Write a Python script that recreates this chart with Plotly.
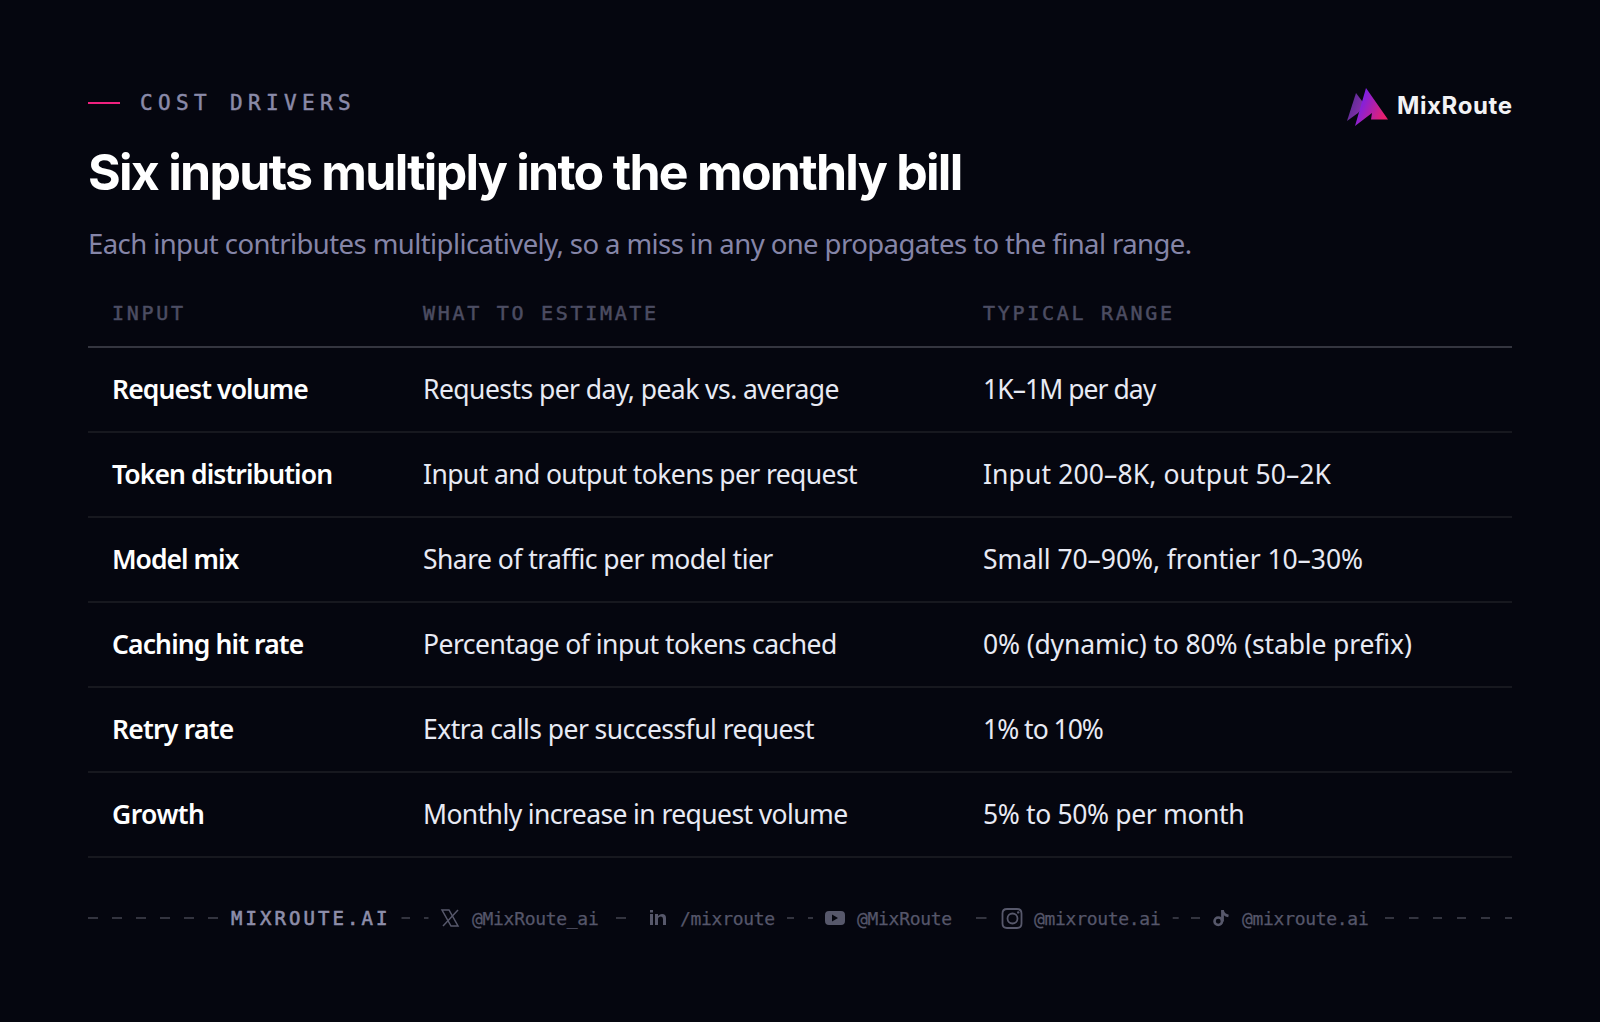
import base64
import plotly.graph_objects as go

# Tabellen-Inhalt
inputs = ["Request volume", "Token distribution", "Model mix", "Caching hit rate", "Retry rate", "Growth"]
estimates = [
    "Requests per day, peak vs. average",
    "Input and output tokens per request",
    "Share of traffic per model tier",
    "Percentage of input tokens cached",
    "Extra calls per successful request",
    "Monthly increase in request volume",
]
ranges = [
    "1K–1M per day",
    "Input 200–8K, output 50–2K",
    "Small 70–90%, frontier 10–30%",
    "0% (dynamic) to 80% (stable prefix)",
    "1% to 10%",
    "5% to 50% per month",
]
headers = ["INPUT", "WHAT TO ESTIMATE", "TYPICAL RANGE"]
eyebrow = "COST DRIVERS"
title = "Six inputs multiply into the monthly bill"
subtitle = "Each input contributes multiplicatively, so a miss in any one propagates to the final range."
brand = "MixRoute"
site = "MIXROUTE.AI"
handles = ["@MixRoute_ai", "/mixroute", "@MixRoute", "@mixroute.ai", "@mixroute.ai"]

BG = "#05060f"
SANS = "Noto Sans"
MONO = "DejaVu Sans Mono"
COL_X = [112, 423, 983]
ROW_TOP = 347
ROW_H = 85
TEXT_DY = 3

# Laufweite je Zeile, die Ziffern von Noto Sans sind anders breit als im Original
col_spacing = [
    [-0.9, -0.9, -1.0, -0.87, -0.75, -0.55],
    [-0.55, -0.6, -0.55, -0.52, -0.55, -0.6],
    [-0.95, 0.12, -0.06, -0.14, -1.0, -0.35],
]


def spaced(text, px, extra=""):
    return f'<span style="letter-spacing:{px}px;{extra}">{text}</span>'


def label(x, y, text, size, color, family=SANS, weight=400, anchor="left"):
    fig.add_annotation(x=x, y=y, text=text, showarrow=False, xanchor=anchor, yanchor="middle",
                       xref="x", yref="y", borderpad=0, borderwidth=0,
                       font=dict(size=size, color=color, family=family, weight=weight))


fig = go.Figure()

# Zeilen der Tabelle
row_y = [ROW_TOP + ROW_H * (i + 0.5) + TEXT_DY for i in range(len(inputs))]
for col, vals in enumerate([inputs, estimates, ranges]):
    fig.add_trace(go.Scatter(
        x=[COL_X[col]] * len(vals), y=row_y,
        text=[spaced(v, s) for v, s in zip(vals, col_spacing[col])], mode="text",
        textposition="middle right", hoverinfo="skip", showlegend=False,
        textfont=dict(family=SANS, size=26.5, color="#ffffff" if col == 0 else "#e8eaf4",
                      weight=600 if col == 0 else 400),
    ))

# Kopfzeile und Linien
for x, h in zip(COL_X, headers):
    label(x, 313, spaced(h, 2.7, "stroke:#4c4d62;stroke-width:0.5px"), 20, "#4c4d62", MONO)
shapes = [dict(type="line", x0=88, x1=1512, y0=ROW_TOP, y1=ROW_TOP, line=dict(color="#34353f", width=2))]
for i in range(1, len(inputs) + 1):
    y = ROW_TOP + ROW_H * i
    shapes.append(dict(type="line", x0=88, x1=1512, y0=y, y1=y, line=dict(color="#17181f", width=2)))

# Kopfbereich
shapes.append(dict(type="line", x0=88, x1=120, y0=103, y1=103, line=dict(color="#f0217f", width=2)))
label(140, 103, spaced(eyebrow, 5.35, "stroke:#8a8aa8;stroke-width:0.5px"), 21, "#8a8aa8", MONO)
label(88, 172, spaced(title, -1.72), 50, "#ffffff", "Inter", 700)
label(88, 243, spaced(subtitle, -0.58), 27.5, "#8585a8")
label(1397, 105, spaced(brand, 0.6), 24, "#f2f2f5", "Inter", 700)

# Logo als SVG (Verlauf geht mit shapes nicht)
logo_svg = (
    '<svg xmlns="http://www.w3.org/2000/svg" width="44" height="42" viewBox="0 0 44 42">'
    '<defs><linearGradient id="a" x1="0" y1="0" x2="1" y2="0.6"><stop offset="0" stop-color="#4a2a8c"/>'
    '<stop offset="1" stop-color="#9030b0"/></linearGradient>'
    '<linearGradient id="b" x1="0" y1="0" x2="1" y2="0.5"><stop offset="0.3" stop-color="#7f20e0"/>'
    '<stop offset="1" stop-color="#e8206f"/></linearGradient></defs>'
    '<path d="M1 35 L10 7 L19 19 L12 27 Z" fill="url(#a)"/>'
    '<path d="M9 40 L20 2 L42 33.5 L25 33.5 L26 27 Z" fill="url(#b)"/></svg>'
)
logo_src = "data:image/svg+xml;base64," + base64.b64encode(logo_svg.encode()).decode()

# Fußzeile
FOOT_Y = 918
label(231, FOOT_Y, spaced(site, 3.05, "stroke:#8e8eaa;stroke-width:0.6px"), 19, "#8e8eaa", MONO)
for x, h in zip([472, 680, 857, 1034, 1242], handles):
    label(x, FOOT_Y, spaced(h, -0.3, "stroke:#55566a;stroke-width:0.25px"), 18, "#55566a", MONO)
dash_start = [88, 112, 136, 160, 184, 208, 401.5, 424, 616, 787, 808, 976, 1172.7, 1191,
              1385, 1409, 1433, 1457, 1481, 1505]
dash_end = [98, 122, 146, 170, 194, 218, 410, 428.5, 626, 794, 813, 986.5, 1178.7, 1200,
            1394, 1418.5, 1442, 1466, 1490, 1512]
for x0, x1 in zip(dash_start, dash_end):
    shapes.append(dict(type="line", x0=x0, x1=x1, y0=FOOT_Y, y1=FOOT_Y, line=dict(color="#33343f", width=2)))

ICON = "#57586b"
# X
shapes.append(dict(type="path", path="M442 910 L449 910 L458 926 L451 926 Z", line=dict(color=ICON, width=1.5)))
shapes.append(dict(type="line", x0=458, x1=443, y0=910, y1=926, line=dict(color=ICON, width=1.5)))
# LinkedIn
shapes.append(dict(type="rect", x0=650, x1=653, y0=914, y1=925, fillcolor=ICON, line_width=0))
shapes.append(dict(type="rect", x0=650, x1=653, y0=910, y1=912.5, fillcolor=ICON, line_width=0))
shapes.append(dict(type="path", path="M655 914 L658 914 L658 916 Q660 914 662 914 Q666 914 666 918 L666 925 L663 925 L663 919 Q663 916.5 661 916.5 Q658 916.5 658 919 L658 925 L655 925 Z",
                   fillcolor=ICON, line_width=0))
# YouTube
shapes.append(dict(type="path", path="M829 911 L841 911 Q845 911 845 915 L845 921 Q845 925 841 925 L829 925 Q825 925 825 921 L825 915 Q825 911 829 911 Z M832 914.5 L832 921.5 L838 918 Z",
                   fillcolor=ICON, line_width=0))
# Instagram
shapes.append(dict(type="path", path="M1007 909 L1017 909 Q1021.5 909 1021.5 913.5 L1021.5 923.5 Q1021.5 928 1017 928 L1007 928 Q1002.5 928 1002.5 923.5 L1002.5 913.5 Q1002.5 909 1007 909 Z",
                   line=dict(color=ICON, width=1.8)))
shapes.append(dict(type="circle", x0=1007.5, x1=1017.5, y0=913.5, y1=923.5, line=dict(color=ICON, width=1.8)))
shapes.append(dict(type="circle", x0=1017, x1=1019.4, y0=911.2, y1=913.6, fillcolor=ICON, line_width=0))
# TikTok
shapes.append(dict(type="circle", x0=1214.5, x1=1222, y0=917.5, y1=925, line=dict(color=ICON, width=2.6)))
shapes.append(dict(type="line", x0=1222.5, x1=1222.5, y0=910, y1=921.5, line=dict(color=ICON, width=2.8)))
shapes.append(dict(type="path", path="M1222.5 910.5 Q1223.5 915 1228.5 916", line=dict(color=ICON, width=2.8)))

fig.update_layout(
    width=1600, height=1022,
    margin=dict(l=0, r=0, t=0, b=0),
    paper_bgcolor=BG, plot_bgcolor=BG,
    xaxis=dict(range=[0, 1600], visible=False, fixedrange=True),
    yaxis=dict(range=[1022, 0], visible=False, fixedrange=True),
    shapes=shapes,
    images=[dict(source=logo_src, xref="x", yref="y", x=1346, y=86, sizex=44, sizey=42,
                 xanchor="left", yanchor="top", sizing="stretch", layer="above")],
    showlegend=False,
)

fig.write_html("out.html", config={"displayModeBar": False},
               post_script=f"document.body.style.margin='0';document.body.style.background='{BG}';document.body.style.overflow='hidden';")
